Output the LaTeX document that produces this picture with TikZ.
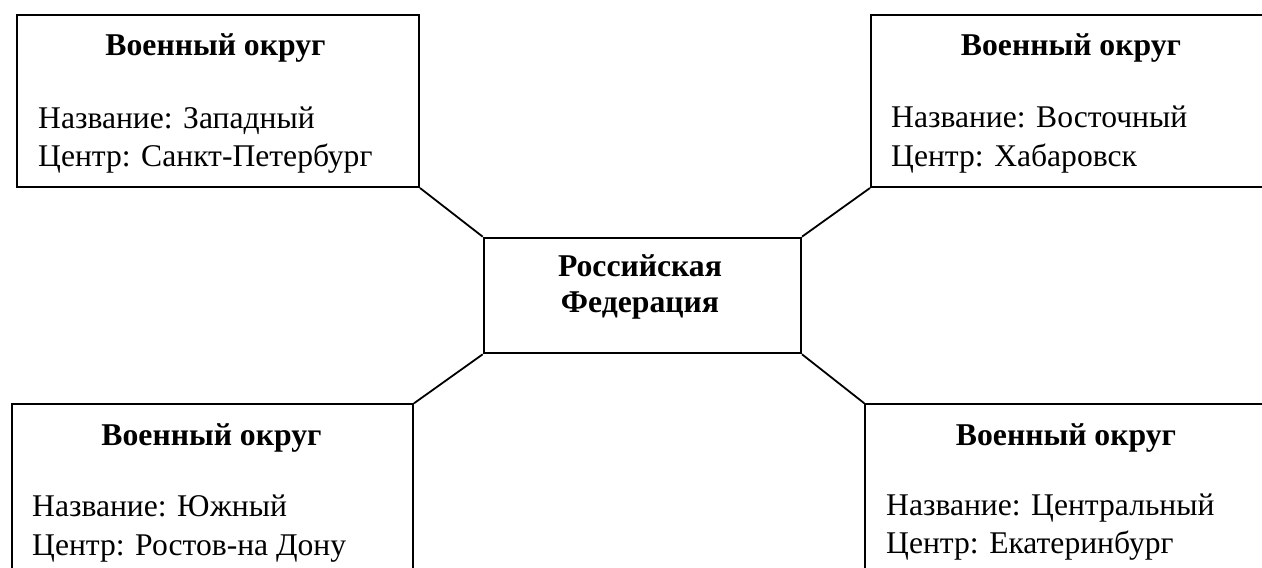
\documentclass[tikz,border=0pt]{standalone}
\usepackage{fontspec}
\setmainfont{Liberation Serif}
\tikzset{
  box/.style={draw=black, line width=2pt, inner sep=0pt, anchor=north west},
  conn/.style={draw=black, line width=1.8pt},
  head/.style={inner sep=0pt, anchor=base, font=\fontsize{31.7}{36}\selectfont\bfseries},
  info/.style={inner sep=0pt, anchor=base west, font=\fontsize{31.6}{38}\selectfont},
  ctr/.style={inner sep=0pt, anchor=base, align=center, font=\fontsize{31.7}{35.5}\selectfont\bfseries}
}
\begin{document}
\begin{tikzpicture}[x=1pt, y=-1pt]
\useasboundingbox (0,0) rectangle (1262,568);
\clip (0,0) rectangle (1262,568);
% boxes
\node[box, minimum width=402pt, minimum height=172pt] (tl) at (16,14) {};
\node[box, minimum width=402pt, minimum height=172pt] (tr) at (870,14) {};
\node[box, minimum width=317.3pt, minimum height=115.6pt] (c) at (482.7,236.7) {};
\node[box, minimum width=401.3pt, minimum height=175pt] (bl) at (10.7,403.3) {};
\node[box, minimum width=404pt, minimum height=175pt] (br) at (864.3,403.3) {};
% connectors
\draw[conn] (tl.south east) -- (c.north west);
\draw[conn] (tr.south west) -- (c.north east);
\draw[conn] (bl.north east) -- (c.south west);
\draw[conn] (br.north west) -- (c.south east);
% texts
\node[head] (tlh) at (215.5,55) {Военный округ};
\node[info] (tl1) at (38,128) {Название: Западный};
\node[info] (tl2) at (38,166) {Центр: Санкт-Петербург};
\node[head] (trh) at (1071,55) {Военный округ};
\node[info] (tr1) at (891,127) {Название: Восточный};
\node[info] (tr2) at (891,166) {Центр: Хабаровск};
\node[head] (blh) at (211.5,445) {Военный округ};
\node[info] (bl1) at (32,516.5) {Название: Южный};
\node[info] (bl2) at (32,555) {Центр: Ростов-на Дону};
\node[head] (brh) at (1066,445) {Военный округ};
\node[info] (br1) at (886,515) {Название: Центральный};
\node[info] (br2) at (886,553) {Центр: Екатеринбург};
\node[ctr] (ct1) at (640,276.7) {Российская};
\node[ctr] (ct2) at (640,312) {Федерация};
\end{tikzpicture}
\end{document}
